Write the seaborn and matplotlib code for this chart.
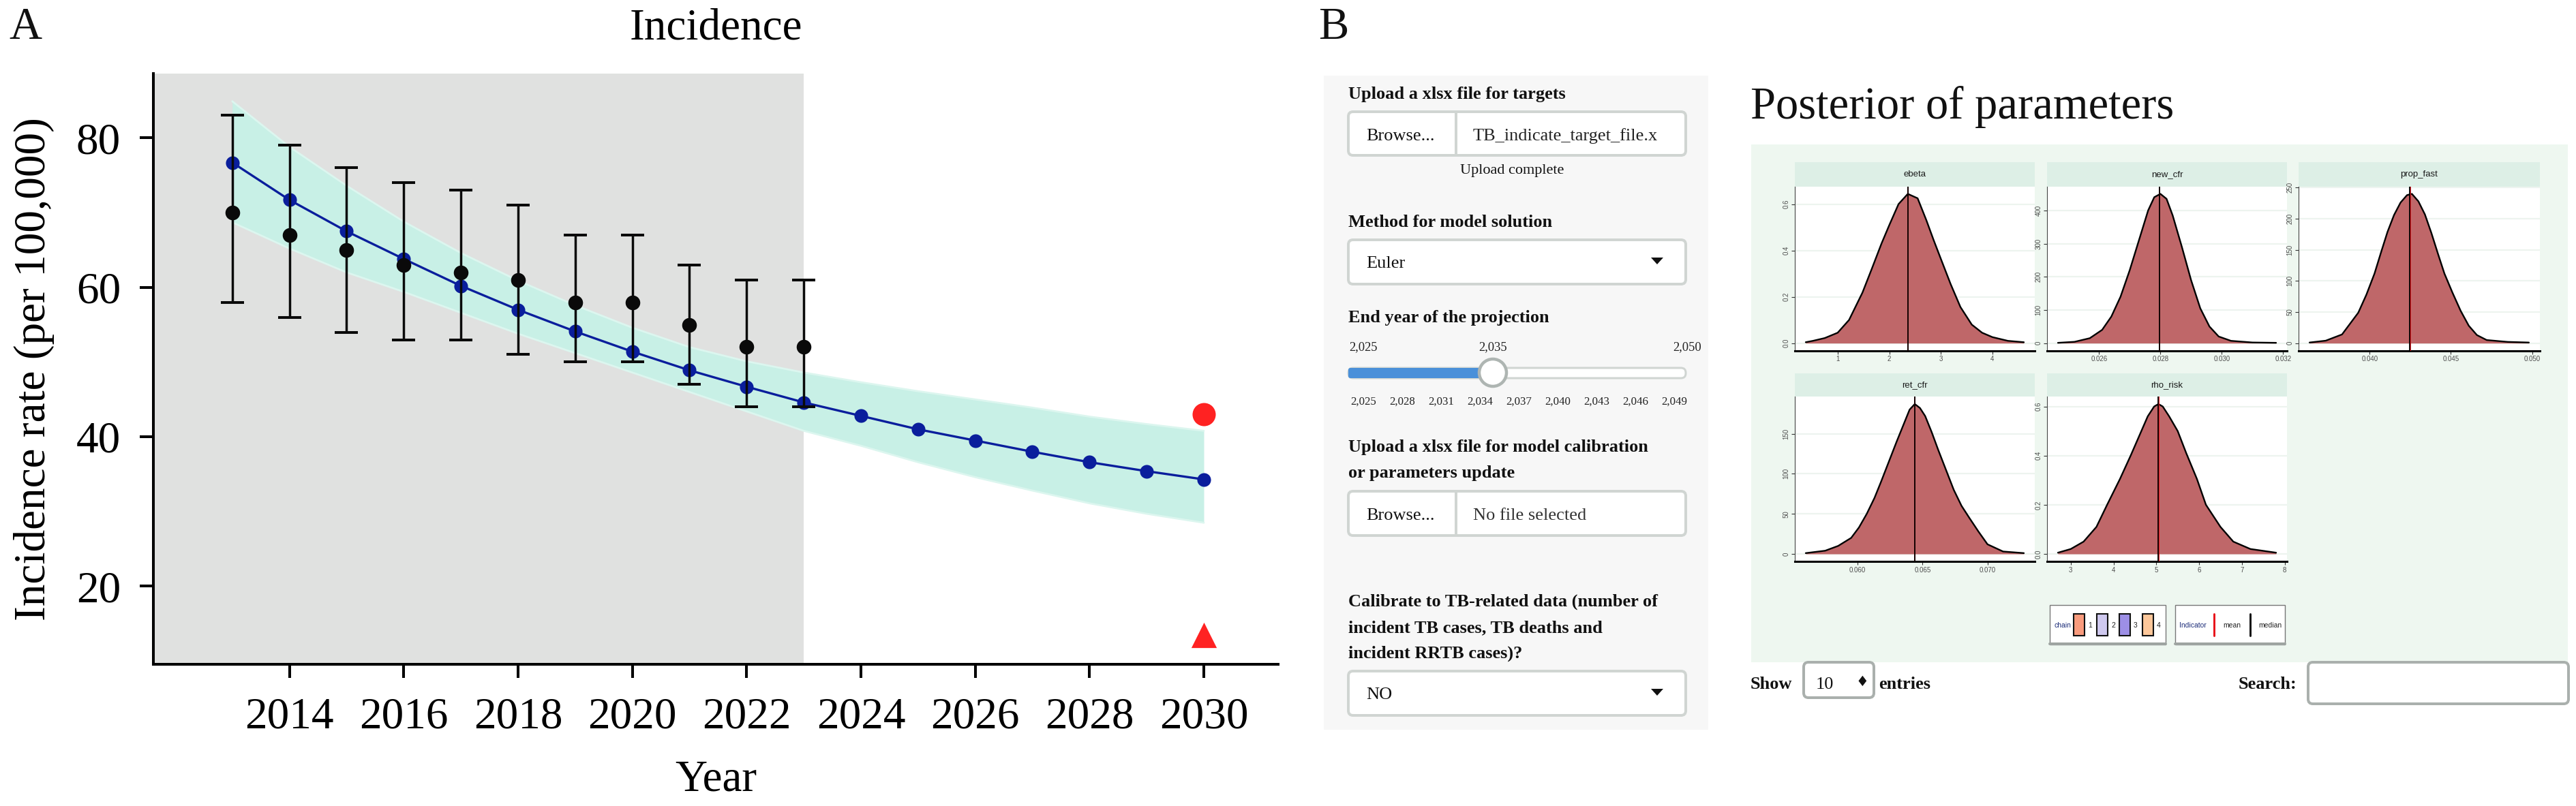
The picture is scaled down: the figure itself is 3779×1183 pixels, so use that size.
import numpy as np
import pandas as pd
import matplotlib
matplotlib.use("Agg")
import matplotlib.pyplot as plt
import seaborn as sns
from matplotlib.patches import FancyBboxPatch, Rectangle, Circle, Polygon

sns.set_theme(style="white")
plt.rcParams['font.family'] = ['Liberation Serif', 'DejaVu Serif']

# ------------------------------------------------------------------ data (panel A)
obs_years = [2013, 2014, 2015, 2016, 2017, 2018, 2019, 2020, 2021, 2022, 2023]
obs_rate = [70, 67, 65, 63, 62, 61, 58, 58, 55, 52, 52]
obs_low = [58, 56, 54, 53, 53, 51, 50, 50, 47, 44, 44]
obs_high = [83, 79, 76, 74, 73, 71, 67, 67, 63, 61, 61]

model_years = list(range(2013, 2031))
model_rate = [76.7, 71.7, 67.5, 63.8, 60.2, 57.0, 54.1, 51.4, 48.9, 46.7, 44.6,
              42.8, 41.0, 39.5, 38.0, 36.6, 35.4, 34.3]
band_upper = [84.9, 78.8, 73.6, 68.8, 64.6, 60.9, 57.6, 54.6, 52.0, 50.1, 48.6,
              47.3, 46.1, 45.0, 43.9, 42.7, 41.7, 40.8]
band_lower = [68.7, 65.2, 62.0, 59.4, 56.6, 53.8, 51.2, 48.6, 46.0, 43.4, 40.8,
              38.8, 36.6, 34.6, 32.8, 31.1, 29.7, 28.5]
calib_end_year = 2023
target_year = [2030]
target_circle = [43.0]
target_triangle = [13.5]
x_ticks_A = [2014, 2016, 2018, 2020, 2022, 2024, 2026, 2028, 2030]
y_ticks_A = [20, 40, 60, 80]

# ------------------------------------------------------------------ data (panel B)
param_names = ["ebeta", "new_cfr", "prop_fast", "ret_cfr", "rho_risk"]
ebeta_x = [0.38, 0.52, 0.75, 1.0, 1.22, 1.48, 1.66, 1.85, 2.0, 2.18, 2.36, 2.55, 2.72,
           2.86, 3.0, 3.19, 3.38, 3.6, 3.8, 4.0, 4.3, 4.61]
ebeta_d = [0.004, 0.01, 0.022, 0.045, 0.10, 0.218, 0.32, 0.43, 0.509, 0.60, 0.644, 0.625,
           0.53, 0.445, 0.364, 0.255, 0.156, 0.08, 0.045, 0.026, 0.01, 0.004]
new_cfr_x = [0.02466, 0.0252, 0.0257, 0.0261, 0.0264, 0.0267, 0.0270, 0.0273, 0.0276,
             0.0278, 0.0280, 0.0282, 0.0284, 0.0287, 0.0290, 0.0293, 0.0296, 0.0299,
             0.0303, 0.0310, 0.03177]
new_cfr_d = [1, 4, 15, 40, 80, 140, 220, 310, 400, 440, 450, 435, 385, 290, 190, 105,
             50, 20, 7, 2, 1]
prop_fast_x = [0.0363, 0.0373, 0.0383, 0.0393, 0.0398, 0.0403, 0.0407, 0.0411, 0.0415,
               0.0419, 0.0423, 0.0426, 0.0430, 0.0434, 0.0438, 0.0442, 0.0446, 0.0451,
               0.0456, 0.0461, 0.0466, 0.0472, 0.0485, 0.0498]
prop_fast_d = [1, 4, 14, 49, 78, 112, 146, 179, 206, 226, 238, 240, 228, 207, 177, 144,
               112, 81, 52, 28, 13, 5, 2, 1]
ret_cfr_x = [0.0560, 0.0575, 0.0585, 0.0595, 0.0601, 0.0607, 0.0613, 0.0618, 0.0624,
             0.0630, 0.0635, 0.0640, 0.0644, 0.0648, 0.0652, 0.0657, 0.0662, 0.0668,
             0.0674, 0.0680, 0.0686, 0.0693, 0.0700, 0.0712, 0.0728]
ret_cfr_d = [1, 4, 10, 20, 33, 50, 70, 90, 115, 140, 160, 180, 187, 182, 172, 152, 130,
             105, 80, 60, 45, 28, 12, 3, 1]
rho_risk_x = [2.7, 3.0, 3.3, 3.6, 3.85, 4.15, 4.4, 4.6, 4.8, 4.95, 5.05, 5.15, 5.3, 5.5,
              5.7, 5.95, 6.16, 6.5, 6.8, 7.2, 7.8]
rho_risk_d = [0.005, 0.02, 0.05, 0.11, 0.20, 0.305, 0.40, 0.48, 0.56, 0.60, 0.61, 0.60,
              0.56, 0.50, 0.41, 0.305, 0.20, 0.11, 0.05, 0.02, 0.005]
param_median = [2.36, 0.02797, 0.04248, 0.0644, 5.05]
param_mean = [2.365, 0.02798, 0.0425, 0.06442, 5.055]
facet_xticks = [[1, 2, 3, 4], [0.026, 0.028, 0.030, 0.032], [0.040, 0.045, 0.050],
                [0.060, 0.065, 0.070], [3, 4, 5, 6, 7, 8]]
facet_xlabels = [["1", "2", "3", "4"], ["0.026", "0.028", "0.030", "0.032"],
                 ["0.040", "0.045", "0.050"], ["0.060", "0.065", "0.070"],
                 ["3", "4", "5", "6", "7", "8"]]
facet_yticks = [[0, 0.2, 0.4, 0.6], [0, 100, 200, 300, 400], [0, 50, 100, 150, 200, 250],
                [0, 50, 100, 150], [0, 0.2, 0.4, 0.6]]
facet_ylabels = [["0.0", "0.2", "0.4", "0.6"], ["0", "100", "200", "300", "400"],
                 ["0", "50", "100", "150", "200", "250"], ["0", "50", "100", "150"],
                 ["0.0", "0.2", "0.4", "0.6"]]
chain_labels = ["1", "2", "3", "4"]
chain_colors = ["#F99B7D", "#CFC9EF", "#9D8FE6", "#FDC79A"]
slider_top_labels = ["2,025", "2,035", "2,050"]
slider_top_years = [2025, 2035, 2050]
slider_tick_years = [2025, 2028, 2031, 2034, 2037, 2040, 2043, 2046, 2049]
slider_value = 2035

# ------------------------------------------------------------------ figure
W, H = 3780, 1183
PT = 0.72  # points per pixel at dpi 100
fig = plt.figure(figsize=(W / 100, H / 100), dpi=100)
fig.patch.set_facecolor("white")


def rect(x0, y0, x1, y1):
    return [x0 / W, 1 - y1 / H, (x1 - x0) / W, (y1 - y0) / H]


ui = fig.add_axes([0, 0, 1, 1])
ui.set_xlim(0, W)
ui.set_ylim(H, 0)
ui.axis("off")

SERIF = ['Liberation Serif', 'DejaVu Serif']
NARROW = ['Liberation Sans Narrow', 'Liberation Sans', 'DejaVu Sans']


def txt(x, y, s, size, weight="normal", ha="left", va="baseline", color="#111111",
        family=None, **kw):
    ui.text(x, y, s, fontsize=size, fontweight=weight, ha=ha, va=va, color=color,
            family=family if family else SERIF, zorder=6, **kw)


def rbox(x0, y0, x1, y1, fc="white", ec="#D0D5D2", lw_px=4, r=7, z=2):
    ui.add_patch(FancyBboxPatch((x0, y0), x1 - x0, y1 - y0,
                                boxstyle=f"round,pad=0,rounding_size={r}",
                                fc=fc, ec=ec, lw=lw_px * PT, zorder=z))


# ------------------------------------------------------------------ panel A
axA = fig.add_axes(rect(225, 108, 1875, 975))
xlimA = (2011.62, 2031.3)
axA.set_xlim(*xlimA)
axA.set_ylim(9.56, 88.6)
axA.set_facecolor("white")
axA.axvspan(xlimA[0], calib_end_year, color="#E0E1E0", lw=0, zorder=0)
axA.fill_between(model_years, band_lower, band_upper, color="#C8F0E6", lw=0, zorder=1)
axA.plot(model_years, band_upper, color="#DCF6EF", lw=2.0, zorder=1.2)
axA.plot(model_years, band_lower, color="#DCF6EF", lw=2.0, zorder=1.2)

df_model = pd.DataFrame({"Year": model_years, "rate": model_rate})
sns.lineplot(data=df_model, x="Year", y="rate", ax=axA, color="#0A1E9C", lw=2.4,
             marker="o", markersize=14.5, markeredgewidth=0, zorder=3)
obs_rate_a = np.array(obs_rate)
axA.errorbar(obs_years, obs_rate,
             yerr=[obs_rate_a - np.array(obs_low), np.array(obs_high) - obs_rate_a],
             fmt="o", color="#0A0A0A", ecolor="#0A0A0A", ms=14.5, elinewidth=2.5,
             capsize=12, capthick=2.9, zorder=4)
sns.scatterplot(x=target_year, y=target_circle, ax=axA, color="#FF2222", s=600,
                marker="o", linewidth=0, zorder=5)
sns.scatterplot(x=target_year, y=target_triangle, ax=axA, color="#FF2222", s=720,
                marker="^", linewidth=0, zorder=5)

axA.set_xticks(x_ticks_A)
axA.set_xticklabels([str(v) for v in x_ticks_A])
axA.set_yticks(y_ticks_A)
axA.set_yticklabels([str(v) for v in y_ticks_A])
axA.tick_params(axis="both", which="major", bottom=True, left=True, length=14.4,
                width=2.9, labelsize=47, pad=20, color="black", labelcolor="black",
                direction="out")
for s in ["top", "right"]:
    axA.spines[s].set_visible(False)
for s in ["left", "bottom"]:
    axA.spines[s].set_color("black")
    axA.spines[s].set_linewidth(2.9)
axA.set_xlabel("Year", fontsize=47, color="black")
axA.xaxis.set_label_coords(0.5, -0.1615)
axA.set_ylabel("Incidence rate (per 100,000)", fontsize=47, color="black")
axA.yaxis.set_label_coords(-0.0879, 0.5)
axA.set_title("Incidence", fontsize=47, color="black", y=1.0588, pad=0)
axA.grid(False)

txt(13, 57, "A", 48)
txt(1934, 57, "B", 48)

# ------------------------------------------------------------------ panel B: sidebar
ui.add_patch(Rectangle((1942, 111), 2506 - 1942, 1071 - 111, fc="#F7F7F7", ec="none",
                       zorder=1))
LBL = 19
txt(1978, 145, "Upload a xlsx file for targets", LBL, weight="bold")
rbox(1978, 164, 2473, 228)
ui.plot([2136, 2136], [164, 228], color="#D0D5D2", lw=4 * PT, zorder=3)
txt(2004, 206, "Browse...", LBL)
txt(2161, 206, "TB_indicate_target_file.x", LBL, color="#222222")
txt(2218, 255, "Upload complete", 16, ha="center")

txt(1978, 333, "Method for model solution", LBL, weight="bold")
rbox(1978, 352, 2473, 417)
txt(2004, 393, "Euler", LBL)
ui.add_patch(Polygon([(2422, 378), (2440, 378), (2431, 388)], closed=True, fc="#111111",
                     ec="none", zorder=4))

txt(1978, 473, "End year of the projection", LBL, weight="bold")
y2px = lambda yr: 2000 + (yr - 2025) * (2475 - 2000) / 25.0
for lab, yr in zip(slider_top_labels, slider_top_years):
    txt(y2px(yr), 514, lab, 13.3, ha="center", color="#222222")
rbox(1978, 540, 2473, 555, fc="white", ec="#D0D5D2", lw_px=3, r=7)
rbox(1978, 540, y2px(slider_value), 555, fc="#4A90D9", ec="none", lw_px=0, r=3, z=3)
ui.add_patch(Circle((y2px(slider_value), 547), 20, fc="white", ec="#AEB5B2",
                    lw=4.5 * PT, zorder=4))
for yr in slider_tick_years:
    txt(y2px(yr), 594, f"{yr // 1000},{yr % 1000:03d}", 12.2, ha="center",
        color="#222222")

txt(1978, 663, "Upload a xlsx file for model calibration", LBL, weight="bold")
txt(1978, 701, "or parameters update", LBL, weight="bold")
rbox(1978, 721, 2473, 786)
ui.plot([2136, 2136], [721, 786], color="#D0D5D2", lw=4 * PT, zorder=3)
txt(2004, 763, "Browse...", LBL)
txt(2161, 763, "No file selected", LBL, color="#333333")

txt(1978, 890, "Calibrate to TB-related data (number of", LBL, weight="bold")
txt(1978, 928, "incident TB cases, TB deaths and", LBL, weight="bold")
txt(1978, 966, "incident RRTB cases)?", LBL, weight="bold")
rbox(1978, 985, 2473, 1050)
txt(2004, 1026, "NO", LBL)
ui.add_patch(Polygon([(2422, 1011), (2440, 1011), (2431, 1021)], closed=True,
                     fc="#111111", ec="none", zorder=4))

# ------------------------------------------------------------------ panel B: posterior
txt(2568, 174, "Posterior of parameters", 48)
ui.add_patch(Rectangle((2569, 212), 3767 - 2569, 972 - 212, fc="#EEF7F0", ec="none",
                       zorder=1))

cols = [(2633, 2985), (3003, 3355), (3372, 3726)]
rows = [(238, 273.6, 514.6), (548, 582, 824)]
facet_pos = [(0, 0), (0, 1), (0, 2), (1, 0), (1, 1)]
dens_x = [ebeta_x, new_cfr_x, prop_fast_x, ret_cfr_x, rho_risk_x]
dens_d = [ebeta_d, new_cfr_d, prop_fast_d, ret_cfr_d, rho_risk_d]

for i, name in enumerate(param_names):
    r, c = facet_pos[i]
    x0, x1 = cols[c]
    st, pt_, pb = rows[r]
    # strip
    ui.add_patch(Rectangle((x0, st), x1 - x0, pt_ - st, fc="#DDEFE6", ec="none",
                           zorder=2))
    txt((x0 + x1) / 2, (st + pt_) / 2, name, 9.5, ha="center", va="center",
        color="#1A1A1A", family=NARROW)
    ax = fig.add_axes(rect(x0, pt_, x1, pb))
    ax.set_facecolor("white")
    xs, ds = dens_x[i], dens_d[i]
    xr = xs[-1] - xs[0]
    pk = max(ds)
    ax.set_xlim(xs[0] - 0.05 * xr, xs[-1] + 0.05 * xr)
    ax.set_ylim(-0.05 * pk, 1.05 * pk)
    for yt in facet_yticks[i]:
        ax.axhline(yt, color="#EDF4EF", lw=1.6, zorder=0)
    ax.fill_between(xs, 0, ds, color="#BF6769", lw=0, zorder=2)
    sns.lineplot(x=xs, y=ds, ax=ax, color="black", lw=1.7, zorder=3)
    ax.axvline(param_mean[i], color="#E8141C", lw=1.4, zorder=4)
    ax.axvline(param_median[i], color="black", lw=1.3, zorder=5)
    ax.set_xticks(facet_xticks[i])
    ax.set_xticklabels(facet_xlabels[i], family=NARROW, fontsize=7, color="#4D4D4D")
    ax.set_yticks(facet_yticks[i])
    ax.set_yticklabels(facet_ylabels[i], family=NARROW, fontsize=7, color="#4D4D4D",
                       rotation=90, va="center")
    ax.tick_params(axis="both", bottom=True, left=True, length=3.5, width=0.8,
                   pad=2, color="#333333")
    ax.set_xlabel("")
    ax.set_ylabel("")
    for s in ["top", "right"]:
        ax.spines[s].set_visible(False)
    ax.spines["left"].set_color("#444444")
    ax.spines["left"].set_linewidth(0.8)
    ax.spines["bottom"].set_color("black")
    ax.spines["bottom"].set_linewidth(2.2)
    ax.grid(False)

# legend boxes
ui.add_patch(Rectangle((3007, 888), 3177 - 3007, 946 - 888, fc="white", ec="#777777",
                       lw=1.0, zorder=2))
ui.plot([3007, 3177], [945, 945], color="#9EA4A1", lw=4 * PT, zorder=3)
txt(3013, 918, "chain", 7.5, va="center", color="#1F2F7A", family=NARROW)
sw_x = [3042, 3076, 3109, 3143]
for sx, lab, colr in zip(sw_x, chain_labels, chain_colors):
    ui.add_patch(Rectangle((sx, 901), 16, 32, fc=colr, ec="#111111", lw=1.5, zorder=3))
    txt(sx + 24, 918, lab, 7.5, ha="center", va="center", color="#222222",
        family=NARROW)
ui.add_patch(Rectangle((3191, 888), 3352 - 3191, 946 - 888, fc="white", ec="#777777",
                       lw=1.0, zorder=2))
ui.plot([3191, 3352], [945, 945], color="#9EA4A1", lw=4 * PT, zorder=3)
txt(3197, 918, "Indicator", 7.5, va="center", color="#1F2F7A", family=NARROW)
ui.plot([3248, 3248], [901, 933], color="#E8141C", lw=3 * PT, zorder=3)
txt(3274, 918, "mean", 7.5, ha="center", va="center", color="#222222", family=NARROW)
ui.plot([3301, 3301], [901, 933], color="#111111", lw=3 * PT, zorder=3)
txt(3330, 918, "median", 7.5, ha="center", va="center", color="#222222", family=NARROW)

# table controls
txt(2568, 1011, "Show", LBL, weight="bold")
rbox(2646, 972, 2749, 1024, fc="white", ec="#AAB0AD", lw_px=4, r=7)
txt(2664, 1011, "10", LBL)
txt(2732, 1001, "\u2666", 15, ha="center", va="center", family=['DejaVu Sans'])
txt(2756, 1011, "entries", LBL, weight="bold")
txt(3369, 1011, "Search:", LBL, weight="bold", ha="right")
rbox(3386, 972, 3768, 1033, fc="white", ec="#AAB0AD", lw_px=4, r=7)

fig.savefig("out.png", dpi=100, facecolor="white")
